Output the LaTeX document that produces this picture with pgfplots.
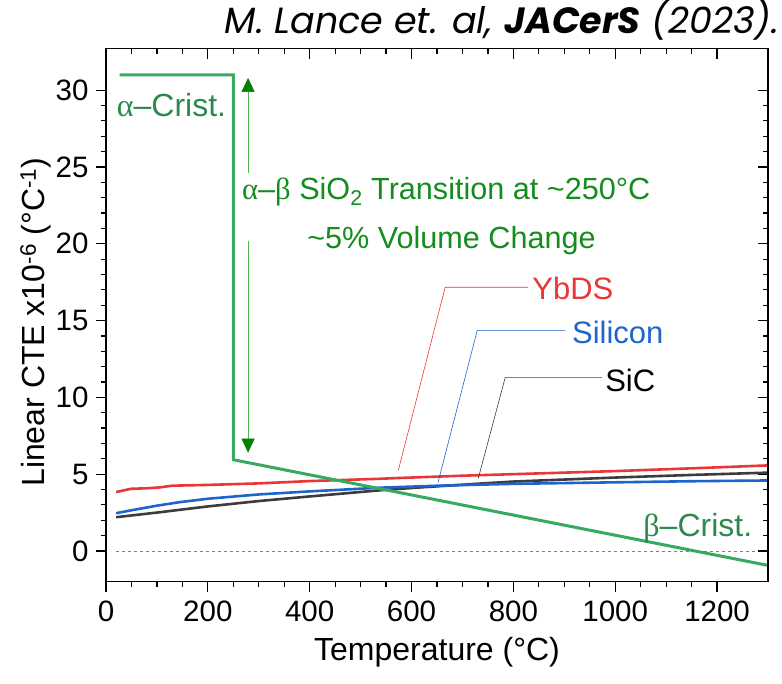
\documentclass[border=0pt]{standalone}
\usepackage{pgfplots}
\pgfplotsset{compat=1.18}
\usepackage{fontspec}
\setmainfont{Liberation Sans}
\newfontfamily\greek{Liberation Serif}
\newfontfamily\titlefont{Poppins}
\usetikzlibrary{arrows.meta}
\definecolor{cgreen}{RGB}{55,170,95}
\definecolor{tgreen}{RGB}{20,140,30}
\definecolor{cred}{RGB}{232,55,55}
\definecolor{cblue}{RGB}{30,100,205}
\definecolor{cblack}{RGB}{60,60,60}
\pgfplotstableread{
x y
20 3.83
35 3.95
50 4.05
80 4.08
106 4.14
130 4.25
200 4.30
300 4.40
400 4.55
538 4.70
574 4.75
700 4.90
800 5.00
1000 5.20
1150 5.38
1300 5.57
}\ybds
\pgfplotstableread{
x y
20 2.46
50 2.65
100 2.95
145 3.18
200 3.40
300 3.68
400 3.88
538 4.12
652 4.25
800 4.37
1000 4.47
1150 4.54
1300 4.59
}\silicon
\pgfplotstableread{
x y
20 2.20
100 2.50
145 2.68
200 2.90
300 3.25
400 3.55
538 3.95
600 4.10
731 4.38
800 4.52
1000 4.78
1150 4.95
1300 5.10
}\sic
\pgfplotsset{
  myframe/.style={
    at={(0pt,0pt)}, anchor=south west,
    scale only axis, width=662pt, height=533pt,
    xmin=0, xmax=1300, ymin=-2, ymax=32.7,
    xtick={0,200,...,1200}, minor x tick num=3,
    ytick={0,5,...,30}, minor y tick num=4,
    major tick length=10pt, minor tick length=5pt,
    every tick/.style={black, line width=1.2pt},
    axis line style={line width=1.4pt},
  }
}
\begin{document}
\begin{tikzpicture}
\path[use as bounding box] (-106pt,-102.3pt) rectangle (676pt,581.7pt);
\begin{axis}[
  myframe,
  tick align=outside,
  xtick pos=bottom, ytick pos=left,
  /pgf/number format/assume math mode=true,
  /pgf/number format/1000 sep={},
  ticklabel style={font=\fontsize{29.5}{34}\selectfont},
  xticklabel style={yshift=-6pt},
  yticklabel style={xshift=-4pt},
  xlabel={Temperature (°C)},
  ylabel={Linear CTE x10\textsuperscript{-6} (°C\textsuperscript{-1})},
  label style={font=\fontsize{32}{36}\selectfont},
  xlabel style={at={(axis description cs:0.5,-0.132)}, anchor=center},
  ylabel style={at={(axis description cs:-0.106,0.487)}, anchor=center},
  clip=true,
]
\addplot[gray, dashed, line width=0.8pt] coordinates {(20,0) (1300,0)};
\addplot[cblack, line width=2.6pt] table {\sic};
\addplot[cblue, line width=2.6pt] table {\silicon};
\addplot[cred, line width=2.6pt] table {\ybds};
\addplot[cgreen, line width=3pt] coordinates {(27,31.0) (250,31.0) (250,5.94) (1300,-0.94)};
% leader lines
\draw[cred, line width=0.6pt] (axis cs:574,5.24) -- (axis cs:666,17.17) -- (axis cs:829,17.17);
\draw[cblue, line width=0.6pt] (axis cs:652,4.46) -- (axis cs:729,14.36) -- (axis cs:902,14.36);
\draw[cblack, line width=0.6pt] (axis cs:731,4.72) -- (axis cs:784,11.3) -- (axis cs:974,11.3);
\node[anchor=west, text=cred, font=\fontsize{31}{36}\selectfont, inner sep=0pt] at (axis cs:837,17.1) {YbDS};
\node[anchor=west, text=cblue, font=\fontsize{31}{36}\selectfont, inner sep=0pt] at (axis cs:915,14.2) {Silicon};
\node[anchor=west, text=black, font=\fontsize{31}{36}\selectfont, inner sep=0pt] at (axis cs:980,11.1) {SiC};
% transition arrows
\draw[green!60!black!70, line width=0.6pt, -{Triangle[width=13pt,length=14pt,color=green!50!black]}] (axis cs:279,24.6) -- (axis cs:279,30.8);
\draw[green!60!black!70, line width=0.6pt, -{Triangle[width=13pt,length=14pt,color=green!50!black]}] (axis cs:279,20.2) -- (axis cs:279,6.4);
\node[anchor=west, text=tgreen, font=\fontsize{30.6}{36}\selectfont, inner sep=0pt] at (axis cs:267,23.4) {{\greek α}–{\greek β} SiO\textsubscript{2} Transition at \char`\~250°C};
\node[anchor=west, text=tgreen, font=\fontsize{30.6}{36}\selectfont, inner sep=0pt] at (axis cs:395,20.2) {\char`\~5\% Volume Change};
\node[anchor=west, text=cgreen!80!black, font=\fontsize{32}{36}\selectfont, inner sep=0pt] at (axis cs:21,29.0) {{\greek α}–Crist.};
\node[anchor=west, text=cgreen!80!black, font=\fontsize{32}{36}\selectfont, inner sep=0pt] at (axis cs:1055,1.5) {{\greek β}–Crist.};
\end{axis}
\begin{axis}[
  myframe,
  tick align=inside,
  xtick pos=right, ytick pos=right,
  xticklabels={}, yticklabels={},
]
\end{axis}
\node[anchor=east, font=\titlefont\itshape\fontsize{36.5}{40}\selectfont, inner sep=0pt] at (673pt,562pt) {M. Lance et. al, {\bfseries JACerS} (2023).};
\end{tikzpicture}
\end{document}
